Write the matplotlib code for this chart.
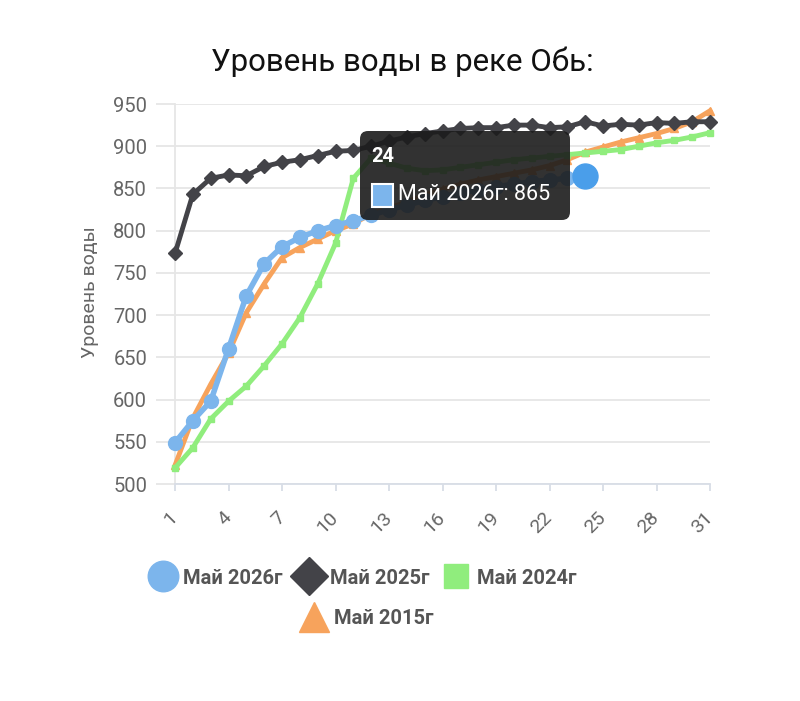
import matplotlib.pyplot as plt
from matplotlib.lines import Line2D
from matplotlib.patches import FancyBboxPatch, Rectangle
from matplotlib.transforms import IdentityTransform

plt.rcParams['font.family'] = ['Roboto', 'DejaVu Sans']

# data
days = list(range(1, 32))
may_2026 = [549, 575, 598, 660, 723, 761, 781, 792, 800, 806, 812, 818,
            825, 830, 836, 840, 845, 848, 852, 855, 858, 860, 862, 865]
may_2025 = [773, 843, 862, 866, 865, 876, 881, 884, 889, 894, 895, 900,
            906, 911, 915, 918, 921, 922, 922, 925, 925, 922, 923, 929,
            924, 926, 925, 928, 927, 929, 929]
may_2024 = [519, 543, 577, 598, 616, 640, 666, 697, 737, 785, 862, 886,
            880, 874, 871, 872, 875, 878, 881, 884, 886, 888, 890, 892,
            894, 896, 900, 904, 907, 911, 916]
may_2015 = [522, 578, 618, 655, 703, 737, 768, 780, 790, 800, 808, 820,
            827, 834, 842, 849, 855, 860, 864, 868, 872, 877, 884, 893,
            899, 905, 910, 915, 921, 929, 942]
series_names = ['Май 2026г', 'Май 2025г', 'Май 2024г', 'Май 2015г']
x_ticks = list(range(1, 32, 3))
y_ticks = list(range(500, 951, 50))
hover_idx = 23  # day 24 in the tooltip

c_blue, c_black, c_green, c_orange = '#7cb5ec', '#434348', '#90ed7d', '#f7a35c'

fig = plt.figure(figsize=(8, 7.01), dpi=100)
ax = fig.add_axes([175 / 800, 1 - 484 / 701, 535 / 800, 380 / 701])
ax.set_xlim(1, 31)
ax.set_ylim(500, 950)

ax.plot(days, may_2015, color=c_orange, lw=3.5, marker='^', ms=6, zorder=3, clip_on=False)
ax.plot(days, may_2024, color=c_green, lw=3.5, marker='s', ms=5, zorder=4, clip_on=False)
ax.plot(days[:len(may_2026)], may_2026, color=c_blue, lw=4, marker='o', ms=10, zorder=5, clip_on=False)
ax.plot(days, may_2025, color=c_black, lw=3.5, marker='D', ms=7, zorder=6, clip_on=False)
ax.plot(days[hover_idx], may_2026[hover_idx], 'o', ms=18, color='#4a9eea', zorder=7, clip_on=False)

ax.set_yticks(y_ticks)
ax.set_xticks(x_ticks)
ax.grid(axis='y', color='#e6e6e6', lw=1.3)
ax.set_axisbelow(True)
for s in ['top', 'right']:
    ax.spines[s].set_visible(False)
ax.spines['left'].set_color('#e6e6e6')
ax.spines['left'].set_linewidth(1.3)
ax.spines['bottom'].set_color('#d8dde6')
ax.spines['bottom'].set_linewidth(1.3)
ax.tick_params(axis='y', length=14, width=1.3, color='#e6e6e6', labelsize=14.5,
               labelcolor='#666666', pad=6)
ax.tick_params(axis='x', length=5, width=1.3, color='#d8dde6', labelsize=14,
               labelcolor='#666666', pad=17)
for lab in ax.get_xticklabels():
    lab.set_rotation(45)
    lab.set_ha('right')
    lab.set_va('center')
    lab.set_rotation_mode('anchor')

fig.text(0.503, 1 - 62 / 701, 'Уровень воды в реке Обь:', ha='center', va='center',
         fontsize=22.5, color='#111111')
fig.text(90 / 800, 1 - 292 / 701, 'Уровень воды', rotation=90, ha='center', va='center',
         fontsize=14, color='#666666')

# tooltip
tip = FancyBboxPatch((360, 701 - 220), 210, 89, boxstyle='round,pad=0,rounding_size=8',
                     fc='#1c1c1c', ec='none', alpha=0.9, transform=IdentityTransform(), zorder=10)
fig.add_artist(tip)
fig.text(371 / 800, 1 - 156 / 701, str(days[hover_idx]), color='white', weight='bold',
         fontsize=14.5, va='center', zorder=11)
sq = Rectangle((372, 701 - 207), 21, 23, fc=c_blue, ec='white', lw=1.5,
               transform=IdentityTransform(), zorder=11)
fig.add_artist(sq)
fig.text(398 / 800, 1 - 195 / 701, f'{series_names[0]}: {may_2026[hover_idx]}', color='white',
         fontsize=15.5, va='center', zorder=11)

# legend
h_blue = Line2D([], [], ls='none', marker='o', ms=22, color=c_blue)
h_black = Line2D([], [], ls='none', marker='D', ms=19, color=c_black)
h_green = Line2D([], [], ls='none', marker='s', ms=17, color=c_green)
h_orange = Line2D([], [], ls='none', marker='^', ms=21, color=c_orange)
leg_kw = dict(frameon=False, prop=dict(weight='bold', size=14.5), labelcolor='#555555',
              handlelength=1.35, handletextpad=0.35, columnspacing=0.65,
              borderpad=0, borderaxespad=0, loc='center left')
fig.legend([h_blue, h_black, h_green], series_names[:3], ncol=3,
           bbox_to_anchor=(149 / 800, 1 - 578 / 701), **leg_kw)
fig.legend([h_orange], series_names[3:], bbox_to_anchor=(300 / 800, 1 - 619 / 701), **leg_kw)

fig.savefig('out.png', dpi=100)
